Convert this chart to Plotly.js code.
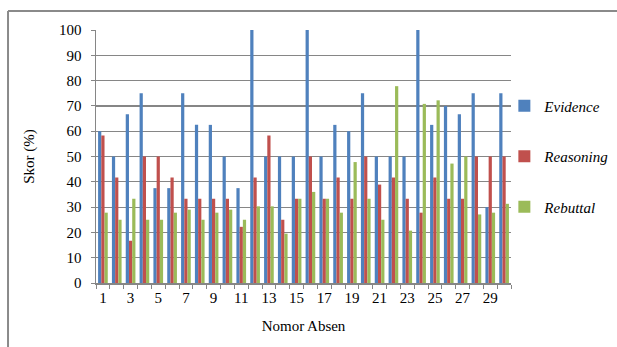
<!DOCTYPE html>
<html>
<head>
<meta charset="utf-8">
<script src="https://cdn.plot.ly/plotly-3.0.1.min.js"></script>
<style>
  html, body { margin: 0; padding: 0; background: #fff; }
  #chart { width: 617px; height: 347px; }
</style>
</head>
<body>
<div id="chart"></div>
<script>
const categories = [1,2,3,4,5,6,7,8,9,10,11,12,13,14,15,16,17,18,19,20,21,22,23,24,25,26,27,28,29,30];
const tickLabels = [1,3,5,7,9,11,13,15,17,19,21,23,25,27,29];
const evidence  = [60,50,66.7,75,37.5,37.5,75,62.5,62.5,50,37.5,100,50,50,50,100,50,62.5,60,75,50,50,50,100,62.5,70,66.7,75,30,75];
const reasoning = [58.3,41.7,16.7,50,50,41.7,33.3,33.3,33.3,33.3,22.2,41.7,58.3,25,33.3,50,33.3,41.7,33.3,50,38.9,41.7,33.3,27.8,41.7,33.3,33.3,50,50,50];
const rebuttal  = [27.8,25,33.3,25,25,27.8,29,25,27.8,29,25,30.3,30.3,19.5,33.3,36,33.3,27.8,47.8,33.3,25,77.8,20.7,70.8,72.2,47.2,50,27.1,27.8,31.3];

const seriesNames = ['Evidence','Reasoning','Rebuttal'];
const seriesColors = ['#4F81BD','#C0504D','#9BBB59'];
const seriesValues = [evidence, reasoning, rebuttal];

const font = '"Times New Roman", "Liberation Serif", "DejaVu Serif", serif';

const traces = seriesValues.map((vals, i) => ({
  type: 'bar',
  x: categories,
  y: vals,
  name: seriesNames[i],
  legendgroup: 'g' + i,
  marker: { color: seriesColors[i], line: { width: 0 } },
  hoverinfo: 'x+y+name'
}));

const grid = '#868686';

const layout = {
  width: 617,
  height: 347,
  margin: { l: 96, r: 106, t: 30, b: 64, pad: 0, autoexpand: false },
  paper_bgcolor: '#ffffff',
  plot_bgcolor: '#ffffff',
  font: { family: font, size: 15, color: '#000' },
  barmode: 'group',
  bargap: 0.3,
  bargroupgap: 0,
  showlegend: true,
  legend: {
    x: 0.984, xanchor: 'left',
    y: 0.765, yanchor: 'top',
    traceorder: 'grouped',
    tracegroupgap: 28,
    font: { family: font, size: 15, color: '#000', style: 'italic' },
    bgcolor: 'rgba(0,0,0,0)',
    itemwidth: 30
  },
  xaxis: {
    type: 'linear',
    range: [0.5, 30.5],
    tickmode: 'array',
    tickvals: tickLabels,
    ticktext: tickLabels.map(String),
    ticks: '',
    showgrid: false,
    zeroline: false,
    showline: true,
    linecolor: grid,
    linewidth: 1.5,
    tickfont: { family: font, size: 15, color: '#000' },
    minor: { ticks: 'outside', tick0: 0.5, dtick: 1, ticklen: 4, tickcolor: grid, tickwidth: 1, showgrid: false },
    title: { text: 'Nomor Absen', font: { family: font, size: 15, color: '#000' }, standoff: 16 },
    fixedrange: true
  },
  yaxis: {
    range: [0, 100],
    dtick: 10,
    tick0: 0,
    ticks: 'outside',
    ticklen: 4,
    tickcolor: grid,
    tickwidth: 1,
    ticklabelstandoff: 6,
    showgrid: true,
    gridcolor: grid,
    gridwidth: 1.2,
    zeroline: false,
    showline: true,
    linecolor: grid,
    linewidth: 1.5,
    tickfont: { family: font, size: 15, color: '#000' },
    title: { text: 'Skor (%)', font: { family: font, size: 15, color: '#000' }, standoff: 21 },
    fixedrange: true
  },
  shapes: [
    { type: 'line', xref: 'paper', yref: 'paper', x0: -0.212, x1: 1.3, y0: 1.075, y1: 1.075, line: { color: '#8a8a8a', width: 2 } },
    { type: 'line', xref: 'paper', yref: 'paper', x0: -0.212, x1: -0.212, y0: 1.075, y1: -0.3, line: { color: '#8a8a8a', width: 2 } }
  ]
};

Plotly.newPlot('chart', traces, layout, { displayModeBar: false, staticPlot: true });
</script>
</body>
</html>
